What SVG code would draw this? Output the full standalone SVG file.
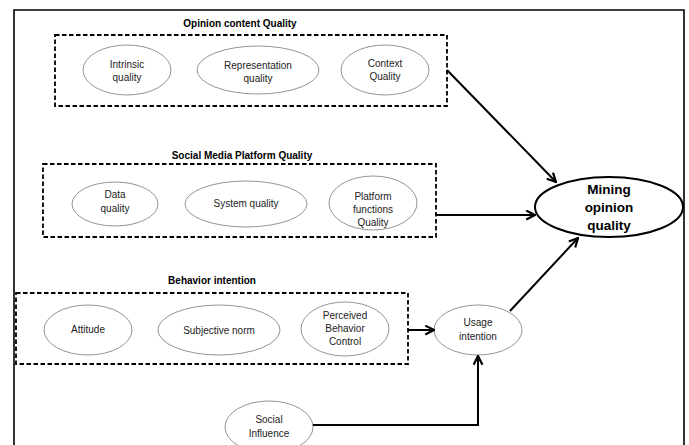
<svg xmlns="http://www.w3.org/2000/svg" width="689" height="445" viewBox="0 0 689 445">
  <defs>
    <marker id="arr" viewBox="0 0 10 10" refX="9" refY="5" markerWidth="11" markerHeight="11" markerUnits="userSpaceOnUse" orient="auto">
      <path d="M1,1 L9,5 L1,9" fill="none" stroke="#000" stroke-width="2"/>
    </marker>
    <style>
      .frame{fill:none;stroke:#000;stroke-width:1.6}
      .group{fill:none;stroke:#000;stroke-width:1.8;stroke-dasharray:4.5 2.5}
      .ell{fill:#fff;stroke:#777;stroke-width:0.8}
      .main{fill:#fff;stroke:#000;stroke-width:2}
      .t{font-family:"Liberation Sans",Arial,sans-serif;font-size:10px;fill:#222;text-anchor:middle}
      .title{font-family:"Liberation Sans",Arial,sans-serif;font-size:10px;font-weight:bold;fill:#000;text-anchor:middle}
      .big{font-family:"Liberation Sans",Arial,sans-serif;font-size:13.5px;font-weight:bold;fill:#000;text-anchor:middle}
      .conn{fill:none;stroke:#000;stroke-width:2}
    </style>
  </defs>
  <rect width="689" height="445" fill="#fff"/>
  <path class="frame" d="M14,446 V10 H684 V446"/>

  <g id="opinion-content-quality">
    <text class="title" x="240" y="26.5">Opinion content Quality</text>
    <rect class="group" x="55" y="35" width="392" height="71"/>
  </g>
  <g id="intrinsic-quality">
    <ellipse class="ell" cx="127" cy="70" rx="44" ry="25"/>
    <text class="t" x="127" y="67.5">Intrinsic</text>
    <text class="t" x="127" y="80.5">quality</text>
  </g>
  <g id="representation-quality">
    <ellipse class="ell" cx="258" cy="70" rx="61" ry="24"/>
    <text class="t" x="258" y="68.5">Representation</text>
    <text class="t" x="258" y="82">quality</text>
  </g>
  <g id="context-quality">
    <ellipse class="ell" cx="385" cy="70" rx="44" ry="25"/>
    <text class="t" x="385" y="66.5">Context</text>
    <text class="t" x="385" y="80">Quality</text>
  </g>

  <g id="social-media-platform-quality">
    <text class="title" x="242" y="158.5">Social Media Platform Quality</text>
    <rect class="group" x="43" y="164" width="393" height="73"/>
  </g>
  <g id="data-quality">
    <ellipse class="ell" cx="115" cy="204" rx="43" ry="22"/>
    <text class="t" x="115" y="197.5">Data</text>
    <text class="t" x="115" y="212">quality</text>
  </g>
  <g id="system-quality">
    <ellipse class="ell" cx="246" cy="204" rx="61" ry="23"/>
    <text class="t" x="246" y="206.5">System quality</text>
  </g>
  <g id="platform-functions-quality">
    <ellipse class="ell" cx="373" cy="203" rx="44" ry="27"/>
    <text class="t" x="373" y="199.5">Platform</text>
    <text class="t" x="373" y="212.5">functions</text>
    <text class="t" x="373" y="225.5">Quality</text>
  </g>

  <g id="behavior-intention">
    <text class="title" x="212" y="283.5">Behavior intention</text>
    <rect class="group" x="16" y="293" width="392" height="71"/>
  </g>
  <g id="attitude">
    <ellipse class="ell" cx="88" cy="330" rx="44" ry="25"/>
    <text class="t" x="88" y="332.5">Attitude</text>
  </g>
  <g id="subjective-norm">
    <ellipse class="ell" cx="219" cy="330" rx="61" ry="25"/>
    <text class="t" x="219" y="333.5">Subjective norm</text>
  </g>
  <g id="perceived-behavior-control">
    <ellipse class="ell" cx="345" cy="329" rx="44" ry="27"/>
    <text class="t" x="345" y="318.5">Perceived</text>
    <text class="t" x="345" y="331.5">Behavior</text>
    <text class="t" x="345" y="344.5">Control</text>
  </g>

  <g id="usage-intention">
    <ellipse class="ell" cx="478" cy="330" rx="44" ry="25"/>
    <text class="t" x="478" y="326">Usage</text>
    <text class="t" x="478" y="340">intention</text>
  </g>
  <g id="social-influence">
    <ellipse class="ell" cx="269" cy="427" rx="44" ry="26"/>
    <text class="t" x="269" y="422.5">Social</text>
    <text class="t" x="269" y="436.5">Influence</text>
  </g>
  <g id="mining-opinion-quality">
    <ellipse class="main" cx="609" cy="207" rx="74" ry="30"/>
    <text class="big" x="609" y="193.5">Mining</text>
    <text class="big" x="609" y="211.5">opinion</text>
    <text class="big" x="609" y="229.5">quality</text>
  </g>

  <g id="connectors">
    <line class="conn" x1="447" y1="70" x2="556" y2="182" marker-end="url(#arr)"/>
    <line class="conn" x1="436" y1="215" x2="535" y2="215" marker-end="url(#arr)"/>
    <line class="conn" x1="510" y1="311" x2="578" y2="238" marker-end="url(#arr)"/>
    <line class="conn" x1="408" y1="330" x2="434" y2="330" marker-end="url(#arr)"/>
    <path class="conn" d="M313,425 H478 V356" marker-end="url(#arr)"/>
  </g>
</svg>
